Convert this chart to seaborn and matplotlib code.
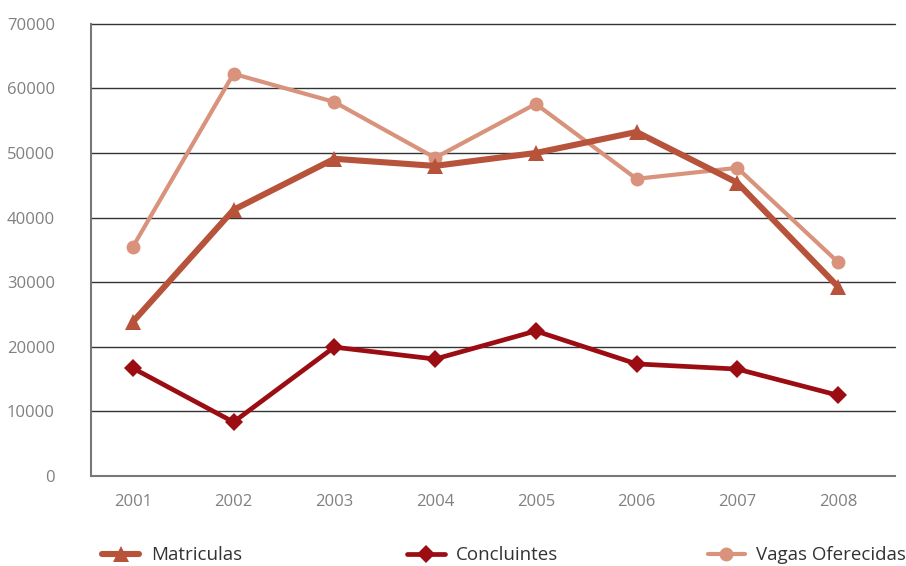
import numpy as np
import pandas as pd
import matplotlib
matplotlib.use("Agg")
import matplotlib.pyplot as plt
import seaborn as sns

# values
anos = ["2001", "2002", "2003", "2004", "2005", "2006", "2007", "2008"]
matriculas = [23850, 41200, 49100, 48000, 50000, 53250, 45400, 29300]
concluintes = [16700, 8350, 19950, 18100, 22450, 17350, 16550, 12500]
vagas = [35450, 62250, 57900, 49250, 57600, 46000, 47700, 33100]

y_ticks = [0, 10000, 20000, 30000, 40000, 50000, 60000, 70000]

sns.set_style("white")
plt.rcParams["font.family"] = ["Open Sans", "DejaVu Sans"]

fig = plt.figure(figsize=(9.06, 5.66), dpi=100)
ax = fig.add_axes([0.1004, 0.159, 0.8874, 0.799])

x = np.arange(len(anos))
df = pd.DataFrame({"x": x, "Matriculas": matriculas,
                   "Concluintes": concluintes, "Vagas Oferecidas": vagas})

series = [
    ("Vagas Oferecidas", "#D9937D", "o", 3.0, 10),
    ("Concluintes", "#9C0D13", "D", 3.4, 9),
    ("Matriculas", "#B8533B", "^", 4.4, 11),
]
for name, color, marker, lw, ms in series:
    sns.lineplot(data=df, x="x", y=name, ax=ax, color=color, marker=marker,
                 linewidth=lw, markersize=ms, markeredgewidth=0, label=name)

# horizontal gridlines
for t in y_ticks[1:]:
    ax.axhline(t, color="#333333", linewidth=1.0, zorder=0, clip_on=False)

ax.set_ylim(0, 70000)
# points sit a little left of the category centres in the reference
ax.set_xlim(-0.415, len(anos) - 0.466)
ax.set_yticks(y_ticks)
ax.set_yticklabels([str(t) for t in y_ticks], color="#808080", fontsize=12)
ax.set_xticks(x)
ax.set_xticklabels(anos, color="#808080", fontsize=12)
ax.set_xticks(np.arange(len(anos)) + 0.565, minor=True)
ax.tick_params(axis="x", which="major", length=0, pad=13)
ax.tick_params(axis="x", which="minor", length=11, width=1, color="#555555", direction="out")
ax.tick_params(axis="y", which="major", length=8, width=1, color="#555555", direction="out", pad=18)
ax.set_xlabel("")
ax.set_ylabel("")

for side in ["top", "right"]:
    ax.spines[side].set_visible(False)
for side in ["left", "bottom"]:
    ax.spines[side].set_color("#777777")
    ax.spines[side].set_linewidth(1.5)

ax.get_legend().remove()
handles, labels = ax.get_legend_handles_labels()
legend_x = {"Matriculas": 0.1125, "Concluintes": 0.4495, "Vagas Oferecidas": 0.781}
for name, lx in legend_x.items():
    i = labels.index(name)
    fig.legend([handles[i]], [name], loc="center left", bbox_to_anchor=(lx, 0.019),
               frameon=False, fontsize=13.5, handlelength=2.0, handletextpad=0.6,
               borderpad=0, borderaxespad=0, labelcolor="#333333")

fig.savefig("out.png", dpi=100)
